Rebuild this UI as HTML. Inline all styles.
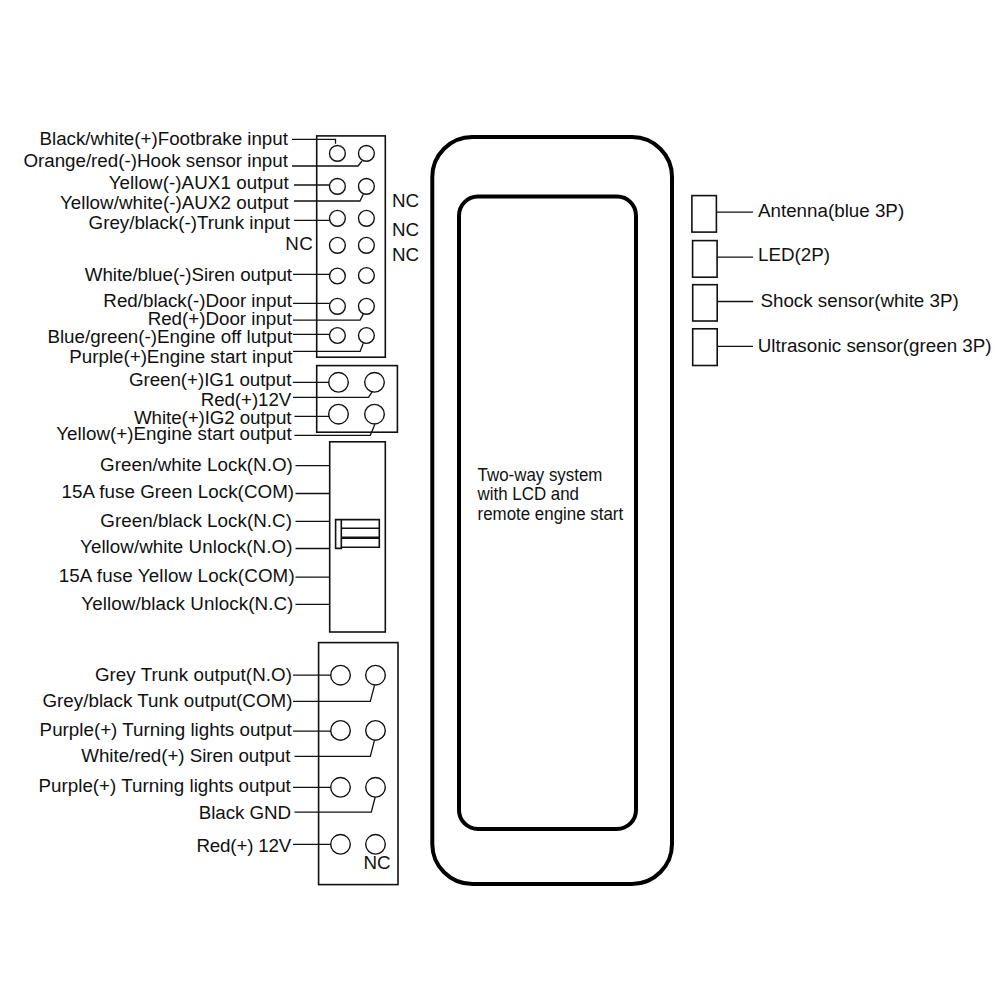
<!DOCTYPE html>
<html><head><meta charset="utf-8"><style>
html,body{margin:0;padding:0;background:#fff;width:1000px;height:1000px;overflow:hidden}
svg{display:block}
text{font-family:"Liberation Sans",sans-serif;font-size:18.8px;fill:#111}
</style></head><body>
<svg width="1000" height="1000" viewBox="0 0 1000 1000">
<rect x="316.7" y="135.9" width="68.6" height="221.3" fill="none" stroke="#111" stroke-width="1.6"/>
<rect x="316.7" y="365.6" width="80.7" height="66.6" fill="none" stroke="#111" stroke-width="1.6"/>
<rect x="329.7" y="441.8" width="55.6" height="190.2" fill="none" stroke="#111" stroke-width="1.6"/>
<rect x="318.6" y="642.6" width="79.4" height="242" fill="none" stroke="#111" stroke-width="1.6"/>
<rect x="691.9" y="195.6" width="24.5" height="36.5" fill="none" stroke="#111" stroke-width="1.6"/>
<rect x="692.6" y="240.6" width="24.5" height="36.6" fill="none" stroke="#111" stroke-width="1.6"/>
<rect x="692.7" y="284.7" width="24.5" height="36.3" fill="none" stroke="#111" stroke-width="1.6"/>
<rect x="692.7" y="328.8" width="24.5" height="36.7" fill="none" stroke="#111" stroke-width="1.6"/>
<path d="M292 139.4H335.5V143.8" fill="none" stroke="#111" stroke-width="1.3"/>
<path d="M292 166H358L362 161" fill="none" stroke="#111" stroke-width="1.3"/>
<path d="M294 185H329.8" fill="none" stroke="#111" stroke-width="1.3"/>
<path d="M294 201H360L363.3 194.3" fill="none" stroke="#111" stroke-width="1.3"/>
<path d="M294 220.3H329.6" fill="none" stroke="#111" stroke-width="1.3"/>
<path d="M293 274.3H329.6" fill="none" stroke="#111" stroke-width="1.3"/>
<path d="M293 303.3H329.6" fill="none" stroke="#111" stroke-width="1.3"/>
<path d="M293 320.1H360.1L363.3 314.1" fill="none" stroke="#111" stroke-width="1.3"/>
<path d="M293 334.4H329.6" fill="none" stroke="#111" stroke-width="1.3"/>
<path d="M293 351.4H360.1L363.3 343.2" fill="none" stroke="#111" stroke-width="1.3"/>
<path d="M293 382.3H329" fill="none" stroke="#111" stroke-width="1.3"/>
<path d="M293 397.4H368.5L372.7 391.1" fill="none" stroke="#111" stroke-width="1.3"/>
<path d="M294.4 416.3H329" fill="none" stroke="#111" stroke-width="1.3"/>
<path d="M294.4 435.3H370.3L374.8 424.5" fill="none" stroke="#111" stroke-width="1.3"/>
<path d="M295.5 465.6H330" fill="none" stroke="#111" stroke-width="1.3"/>
<path d="M295.5 493.5H330" fill="none" stroke="#111" stroke-width="1.3"/>
<path d="M295.5 521.3H330" fill="none" stroke="#111" stroke-width="1.3"/>
<path d="M295.5 548.5H330" fill="none" stroke="#111" stroke-width="1.3"/>
<path d="M295.5 577.1H330" fill="none" stroke="#111" stroke-width="1.3"/>
<path d="M295.5 604.3H330" fill="none" stroke="#111" stroke-width="1.3"/>
<path d="M293 675.2H331" fill="none" stroke="#111" stroke-width="1.3"/>
<path d="M293 701.4H370.3L374.5 685.3" fill="none" stroke="#111" stroke-width="1.3"/>
<path d="M293 731.1H331" fill="none" stroke="#111" stroke-width="1.3"/>
<path d="M294.5 756.3H370.3L374.5 740.2" fill="none" stroke="#111" stroke-width="1.3"/>
<path d="M293 787.3H331" fill="none" stroke="#111" stroke-width="1.3"/>
<path d="M294.5 812.2H371.3L375.2 797" fill="none" stroke="#111" stroke-width="1.3"/>
<path d="M293 844.3H331" fill="none" stroke="#111" stroke-width="1.3"/>
<path d="M716.5 212.2H753" fill="none" stroke="#111" stroke-width="1.3"/>
<path d="M717 257.2H753" fill="none" stroke="#111" stroke-width="1.3"/>
<path d="M717 301.5H753" fill="none" stroke="#111" stroke-width="1.3"/>
<path d="M717 346.3H753" fill="none" stroke="#111" stroke-width="1.3"/>
<circle cx="337.4" cy="153.4" r="7.9" fill="none" stroke="#111" stroke-width="1.4"/>
<circle cx="366.4" cy="153.4" r="7.9" fill="none" stroke="#111" stroke-width="1.4"/>
<circle cx="337.4" cy="186.4" r="7.9" fill="none" stroke="#111" stroke-width="1.4"/>
<circle cx="366.4" cy="186.4" r="7.9" fill="none" stroke="#111" stroke-width="1.4"/>
<circle cx="337.4" cy="218.3" r="7.9" fill="none" stroke="#111" stroke-width="1.4"/>
<circle cx="366.4" cy="218.3" r="7.9" fill="none" stroke="#111" stroke-width="1.4"/>
<circle cx="337.4" cy="245.3" r="7.9" fill="none" stroke="#111" stroke-width="1.4"/>
<circle cx="366.4" cy="245.3" r="7.9" fill="none" stroke="#111" stroke-width="1.4"/>
<circle cx="337.4" cy="276" r="7.9" fill="none" stroke="#111" stroke-width="1.4"/>
<circle cx="366.4" cy="275.5" r="7.9" fill="none" stroke="#111" stroke-width="1.4"/>
<circle cx="337.4" cy="306.3" r="7.9" fill="none" stroke="#111" stroke-width="1.4"/>
<circle cx="366.4" cy="306.3" r="7.9" fill="none" stroke="#111" stroke-width="1.4"/>
<circle cx="337.4" cy="335.5" r="7.9" fill="none" stroke="#111" stroke-width="1.4"/>
<circle cx="366.4" cy="335.5" r="7.9" fill="none" stroke="#111" stroke-width="1.4"/>
<circle cx="338.5" cy="382.3" r="9.8" fill="none" stroke="#111" stroke-width="1.4"/>
<circle cx="374.5" cy="382.3" r="9.8" fill="none" stroke="#111" stroke-width="1.4"/>
<circle cx="338.5" cy="414.2" r="9.8" fill="none" stroke="#111" stroke-width="1.4"/>
<circle cx="374.5" cy="414.2" r="9.8" fill="none" stroke="#111" stroke-width="1.4"/>
<circle cx="340.5" cy="675.2" r="9.8" fill="none" stroke="#111" stroke-width="1.4"/>
<circle cx="375.5" cy="675.2" r="9.8" fill="none" stroke="#111" stroke-width="1.4"/>
<circle cx="340.5" cy="730.4" r="9.8" fill="none" stroke="#111" stroke-width="1.4"/>
<circle cx="375.5" cy="730.4" r="9.8" fill="none" stroke="#111" stroke-width="1.4"/>
<circle cx="340.5" cy="787.3" r="9.8" fill="none" stroke="#111" stroke-width="1.4"/>
<circle cx="375.5" cy="787.3" r="9.8" fill="none" stroke="#111" stroke-width="1.4"/>
<circle cx="340.5" cy="844.3" r="9.8" fill="none" stroke="#111" stroke-width="1.4"/>
<circle cx="375.5" cy="844.3" r="9.8" fill="none" stroke="#111" stroke-width="1.4"/>
<path d="M341.3 519.6H379.3V547.2H341.3M341.3 519.6H335.6V548.4H341.3V519.6M341.3 528.3H379.3" fill="none" stroke="#111" stroke-width="1.6"/>
<path d="M341.3 537.7H379.3" fill="none" stroke="#111" stroke-width="2.4"/>
<rect x="432.3" y="137" width="239.7" height="747" rx="40" ry="40" fill="none" stroke="#000" stroke-width="4"/>
<rect x="459" y="196.5" width="177" height="632.5" rx="19" ry="19" fill="none" stroke="#000" stroke-width="4"/>
<text x="287.9" y="144.95" text-anchor="end" textLength="248.38" lengthAdjust="spacing">Black/white(+)Footbrake input</text>
<text x="287.93" y="167.3" text-anchor="end" textLength="264.51" lengthAdjust="spacing">Orange/red(-)Hook sensor input</text>
<text x="288.62" y="189.2" text-anchor="end" textLength="179.88" lengthAdjust="spacing">Yellow(-)AUX1 output</text>
<text x="288.57" y="208.5" text-anchor="end" textLength="228.69" lengthAdjust="spacing">Yellow/white(-)AUX2 output</text>
<text x="289.95" y="228.86" text-anchor="end" textLength="201.33" lengthAdjust="spacing">Grey/black(-)Trunk input</text>
<text x="312.84" y="250.45" text-anchor="end" textLength="27.59" lengthAdjust="spacing">NC</text>
<text x="292.05" y="280.9" text-anchor="end" textLength="207.28" lengthAdjust="spacing">White/blue(-)Siren output</text>
<text x="292.03" y="306.85" text-anchor="end" textLength="188.69" lengthAdjust="spacing">Red/black(-)Door input</text>
<text x="291.85" y="325.3" text-anchor="end" textLength="144.19" lengthAdjust="spacing">Red(+)Door input</text>
<text x="292.48" y="342.95" text-anchor="end" textLength="245.07" lengthAdjust="spacing">Blue/green(-)Engine off lutput</text>
<text x="292.53" y="363.0" text-anchor="end" textLength="223.19" lengthAdjust="spacing">Purple(+)Engine start input</text>
<text x="291.37" y="386.26" text-anchor="end" textLength="162.44" lengthAdjust="spacing">Green(+)IG1 output</text>
<text x="291.35" y="406.3" text-anchor="end" textLength="90.71" lengthAdjust="spacing">Red(+)12V</text>
<text x="291.5" y="423.75" text-anchor="end" textLength="157.55" lengthAdjust="spacing">White(+)IG2 output</text>
<text x="291.8" y="440.25" text-anchor="end" textLength="235.65" lengthAdjust="spacing">Yellow(+)Engine start output</text>
<text x="292.88" y="470.9" text-anchor="end" textLength="192.81" lengthAdjust="spacing">Green/white Lock(N.O)</text>
<text x="294.1" y="498.0" text-anchor="end" textLength="232.53" lengthAdjust="spacing">15A fuse Green Lock(COM)</text>
<text x="291.9" y="526.85" text-anchor="end" textLength="191.62" lengthAdjust="spacing">Green/black Lock(N.C)</text>
<text x="292.42" y="553.15" text-anchor="end" textLength="212.39" lengthAdjust="spacing">Yellow/white Unlock(N.O)</text>
<text x="294.67" y="581.65" text-anchor="end" textLength="236.0" lengthAdjust="spacing">15A fuse Yellow Lock(COM)</text>
<text x="293.35" y="610.3" text-anchor="end" textLength="212.06" lengthAdjust="spacing">Yellow/black Unlock(N.C)</text>
<text x="291.9" y="680.66" text-anchor="end" textLength="196.98" lengthAdjust="spacing">Grey Trunk output(N.O)</text>
<text x="292.52" y="707.24" text-anchor="end" textLength="250.12" lengthAdjust="spacing">Grey/black Tunk output(COM)</text>
<text x="291.65" y="735.7" text-anchor="end" textLength="252.03" lengthAdjust="spacing">Purple(+) Turning lights output</text>
<text x="290.35" y="761.95" text-anchor="end" textLength="209.06" lengthAdjust="spacing">White/red(+) Siren output</text>
<text x="290.83" y="792.4" text-anchor="end" textLength="252.32" lengthAdjust="spacing">Purple(+) Turning lights output</text>
<text x="291.02" y="819.4" text-anchor="end" textLength="92.29" lengthAdjust="spacing">Black GND</text>
<text x="291.3" y="851.9" text-anchor="end" textLength="94.88" lengthAdjust="spacing">Red(+) 12V</text>
<text x="391.98" y="207.15">NC</text>
<text x="391.98" y="235.75">NC</text>
<text x="391.98" y="261.35">NC</text>
<text x="363.55" y="869.4">NC</text>
<text x="757.98" y="216.98">Antenna(blue 3P)</text>
<text x="757.98" y="260.8">LED(2P)</text>
<text x="760.42" y="306.52">Shock sensor(white 3P)</text>
<text x="757.72" y="352.18">Ultrasonic sensor(green 3P)</text>
<text transform="translate(477.6 480.9) scale(1 1.14)" style="font-size:16.9px">Two-way system</text>
<text transform="translate(477.6 500.1) scale(1 1.14)" style="font-size:16.9px">with LCD and</text>
<text transform="translate(477.6 519.6) scale(1 1.14)" style="font-size:16.9px">remote engine start</text>
</svg>
</body></html>
